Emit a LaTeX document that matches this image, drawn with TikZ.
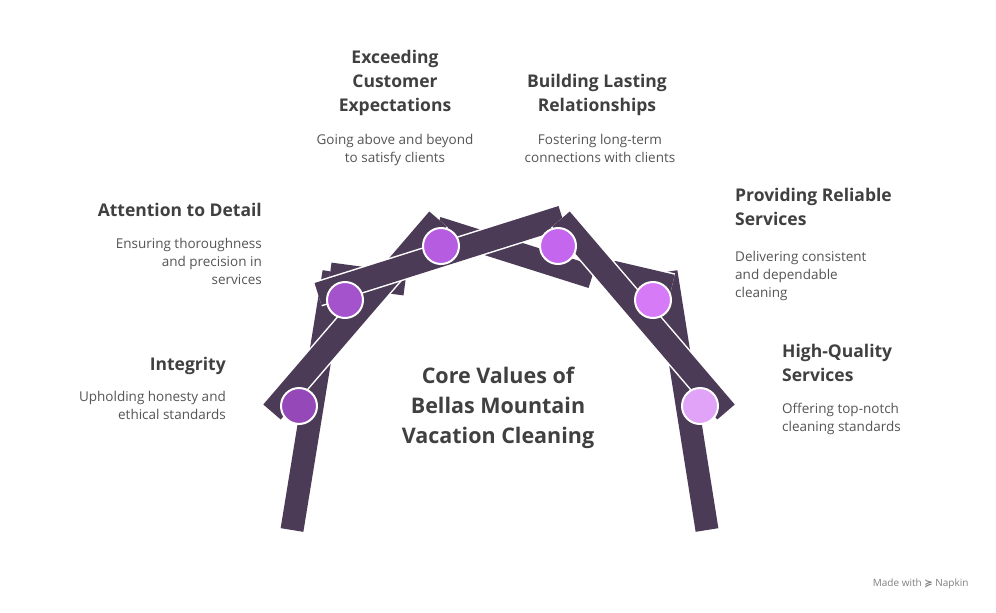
\documentclass[tikz,border=0pt]{standalone}
\usepackage{fontspec}
\setmainfont{Open Sans}
\newfontfamily\djv{DejaVu Sans}
\begin{document}
\begin{tikzpicture}[x=1pt,y=-1pt,
  bar/.style={line width=23pt,draw=barc,line cap=butt},
  barw/.style={line width=26pt,draw=white,line cap=butt},
  dot/.style={circle,draw=white,line width=2pt,minimum size=36pt,inner sep=0pt},
  ttl/.style={font=\bfseries\fontsize{17.5}{24}\selectfont,text=tc,inner sep=0pt},
  dsc/.style={font=\fontsize{13.5}{18}\selectfont,text=dc,inner sep=0pt}]
\definecolor{barc}{HTML}{4C3B56}
\definecolor{tc}{HTML}{404040}
\definecolor{dc}{HTML}{555555}
\useasboundingbox[fill=white] (0,0) rectangle (996,613);
% bars
\foreach \a/\b in {{(292,530)}/{(334,272)},{(707,530)}/{(666,272)},{(330,274)}/{(405,284)},{(612,272)}/{(672,286)},{(437,228)}/{(592,277)},{(272,412)}/{(438,219)},{(318,294)}/{(562,217)},{(561,219)}/{(726,412)}}{
  \draw[barw] \a -- \b; \draw[bar] \a -- \b;}
% circles
\node[dot,fill={rgb,255:red,149;green,73;blue,184}] (c0) at (299,406) {};
\node[dot,fill={rgb,255:red,164;green,83;blue,204}] (c1) at (345,300) {};
\node[dot,fill={rgb,255:red,181;green,92;blue,224}] (c2) at (441,246) {};
\node[dot,fill={rgb,255:red,196;green,102;blue,238}] (c3) at (558,246) {};
\node[dot,fill={rgb,255:red,214;green,122;blue,248}] (c4) at (653,300) {};
\node[dot,fill={rgb,255:red,224;green,163;blue,248}] (c5) at (700,406) {};
% center
\node[font=\bfseries\fontsize{21.5}{30}\selectfont,text=tc,align=center] (ct) at (498,408) {Core Values of\\Bellas Mountain\\Vacation Cleaning};
% labels
\node[ttl,anchor=east] (t0) at (226,366) {Integrity};
\node[dsc,anchor=north east,align=right] (d0) at (226,391) {Upholding honesty and\\ethical standards};
\node[ttl,anchor=east] (t1) at (262,210) {Attention to Detail};
\node[dsc,anchor=north east,align=right] (d1) at (262,238) {Ensuring thoroughness\\and precision in\\services};
\node[ttl,anchor=north,align=center] (t2) at (395,50) {Exceeding\\Customer\\Expectations};
\node[dsc,anchor=north,align=center] (d2) at (395,134) {Going above and beyond\\to satisfy clients};
\node[ttl,anchor=north,align=center] (t3) at (597,74) {Building Lasting\\Relationships};
\node[dsc,anchor=north,align=center] (d3) at (600,134) {Fostering long-term\\connections with clients};
\node[ttl,anchor=north west,align=left] (t4) at (735,188) {Providing Reliable\\Services};
\node[dsc,anchor=north west,align=left] (d4) at (735,251) {Delivering consistent\\and dependable\\cleaning};
\node[ttl,anchor=north west,align=left] (t5) at (782,344) {High-Quality\\Services};
\node[dsc,anchor=north west,align=left] (d5) at (782,403) {Offering top-notch\\cleaning standards};
\node[font=\fontsize{10}{12}\selectfont,text=gray,anchor=east] (mw) at (972,584) {Made with {\djv\bfseries ≽} Napkin};
\end{tikzpicture}
\end{document}
